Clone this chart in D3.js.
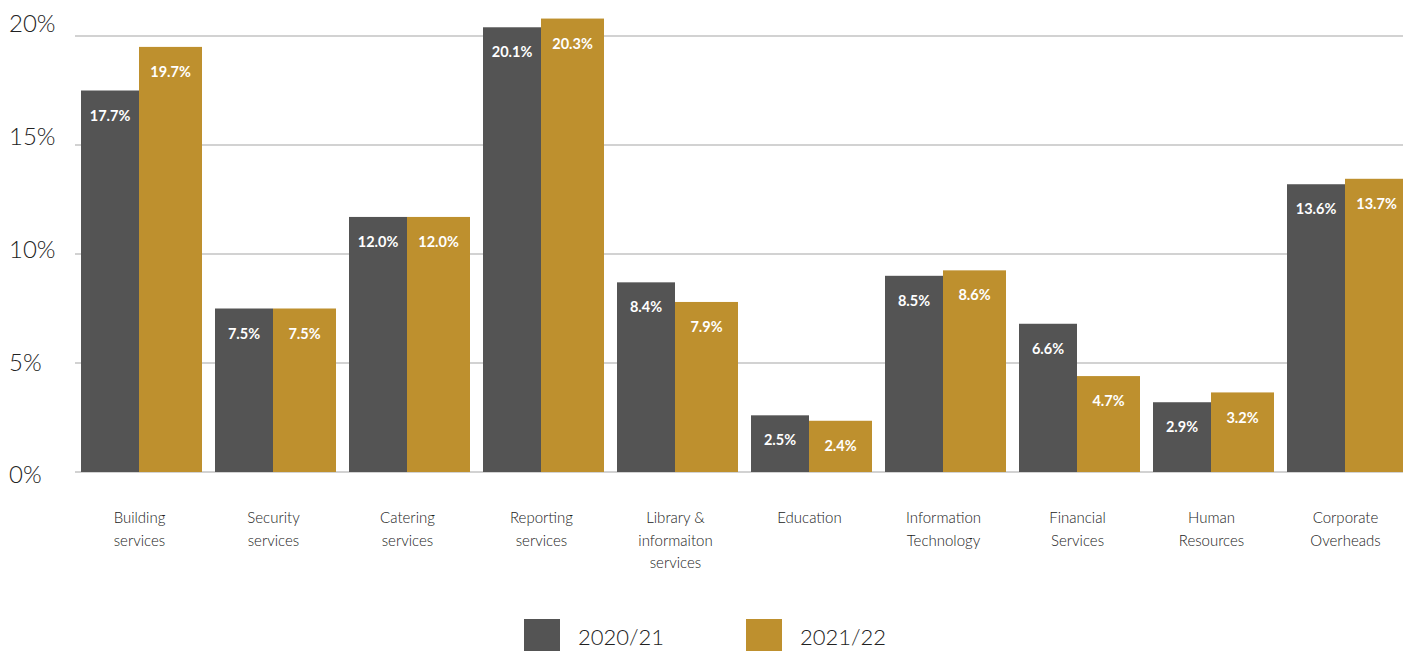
<!DOCTYPE html>
<html lang="en">
<head>
  <meta charset="utf-8" />
  <script src="https://cdnjs.cloudflare.com/ajax/libs/d3/7.8.5/d3.min.js"></script>
  <style>
    body { margin: 0; background: #fff; }
    svg { display: block; font-family: "Lato", "Open Sans", sans-serif; }
    .tick-label { font-size: 24px; font-weight: 300; fill: #222; }
    .cat-label { font-size: 15px; font-weight: 300; fill: #222; }
    .bar-label { font-size: 14.5px; font-weight: 700; fill: #fff; }
    .legend-label { font-size: 22px; font-weight: 300; fill: #222; }
  </style>
</head>
<body>
<svg width="1403" height="651"></svg>
<script>
// categories (line breaks as in the chart)
var categories = [
  ["Building", "services"],
  ["Security", "services"],
  ["Catering", "services"],
  ["Reporting", "services"],
  ["Library &", "informaiton", "services"],
  ["Education"],
  ["Information", "Technology"],
  ["Financial", "Services"],
  ["Human", "Resources"],
  ["Corporate", "Overheads"]
];
var seriesNames = ["2020/21", "2021/22"];

// bar heights as drawn in the picture
var values2021 = [17.5, 7.5, 11.7, 20.4, 8.7, 2.6, 9.0, 6.8, 3.2, 13.2];
var values2122 = [19.5, 7.5, 11.7, 20.8, 7.8, 2.35, 9.25, 4.4, 3.65, 13.45];

// printed labels
var labels2021 = ["17.7%", "7.5%", "12.0%", "20.1%", "8.4%", "2.5%", "8.5%", "6.6%", "2.9%", "13.6%"];
var labels2122 = ["19.7%", "7.5%", "12.0%", "20.3%", "7.9%", "2.4%", "8.6%", "4.7%", "3.2%", "13.7%"];

var yTicks = [0, 5, 10, 15, 20];
var colors = ["#545454", "#be902e"];

var svg = d3.select("svg");

var y = d3.scaleLinear().domain([0, 20]).range([472, 36]);
// tick labels drift slightly from their gridlines in the original
var yLab = d3.scaleLinear().domain([0, 20]).range([475, 23.5]);

var x = d3.scaleBand()
  .domain(d3.range(categories.length))
  .range([81, 1408])
  .paddingInner(13 / 134)
  .paddingOuter(0);

// the first bar of each pair is a little narrower than the second
var subX = [0, 58], subW = [58, 63];

// gridlines
svg.append("g")
  .selectAll("line")
  .data(yTicks)
  .enter()
  .append("line")
  .attr("x1", 75)
  .attr("x2", 1403)
  .attr("y1", function(d){ return y(d); })
  .attr("y2", function(d){ return y(d); })
  .attr("stroke", "#c3c3c3")
  .attr("stroke-width", 1.3);

svg.append("g")
  .selectAll("text")
  .data(yTicks)
  .enter()
  .append("text")
  .attr("class", "tick-label")
  .attr("x", 9)
  .attr("y", function(d){ return yLab(d); })
  .attr("dy", "0.35em")
  .text(function(d){ return d + "%"; });

var rows = categories.map(function(c, i){
  return [
    { i: i, s: 0, v: values2021[i], label: labels2021[i] },
    { i: i, s: 1, v: values2122[i], label: labels2122[i] }
  ];
});

var groups = svg.append("g")
  .selectAll("g")
  .data(rows)
  .enter()
  .append("g")
  .attr("transform", function(d, i){ return "translate(" + x(i) + ",0)"; });

groups.selectAll("rect")
  .data(function(d){ return d; })
  .enter()
  .append("rect")
  .attr("x", function(d){ return subX[d.s]; })
  .attr("width", function(d){ return subW[d.s]; })
  .attr("y", function(d){ return y(d.v); })
  .attr("height", function(d){ return y(0) - y(d.v); })
  .attr("fill", function(d){ return colors[d.s]; });

groups.selectAll("text.bar-label")
  .data(function(d){ return d; })
  .enter()
  .append("text")
  .attr("class", "bar-label")
  .attr("text-anchor", "middle")
  .attr("x", function(d){ return subX[d.s] + subW[d.s] / 2; })
  .attr("y", function(d){ return y(d.v) + 25; })
  .attr("dy", "0.35em")
  .text(function(d){ return d.label; });

// category labels
var cat = svg.append("g")
  .selectAll("text")
  .data(categories)
  .enter()
  .append("text")
  .attr("class", "cat-label")
  .attr("text-anchor", "middle")
  .attr("x", function(d, i){ return x(i) + x.bandwidth() / 2 - 2; })
  .attr("y", 518);

cat.selectAll("tspan")
  .data(function(d){ return d; })
  .enter()
  .append("tspan")
  .attr("x", function(){ return d3.select(this.parentNode).attr("x"); })
  .attr("dy", function(d, j){ return j === 0 ? "0.35em" : "22.5px"; })
  .text(function(d){ return d; });

// legend
var legendX = [524, 746];
var legend = svg.append("g")
  .selectAll("g")
  .data(seriesNames)
  .enter()
  .append("g")
  .attr("transform", function(d, i){ return "translate(" + legendX[i] + ",619)"; });

legend.append("rect")
  .attr("width", 36)
  .attr("height", 36)
  .attr("fill", function(d, i){ return colors[i]; });

legend.append("text")
  .attr("class", "legend-label")
  .attr("x", 54)
  .attr("y", 18)
  .attr("dy", "0.35em")
  .text(function(d){ return d; });
</script>
</body>
</html>
